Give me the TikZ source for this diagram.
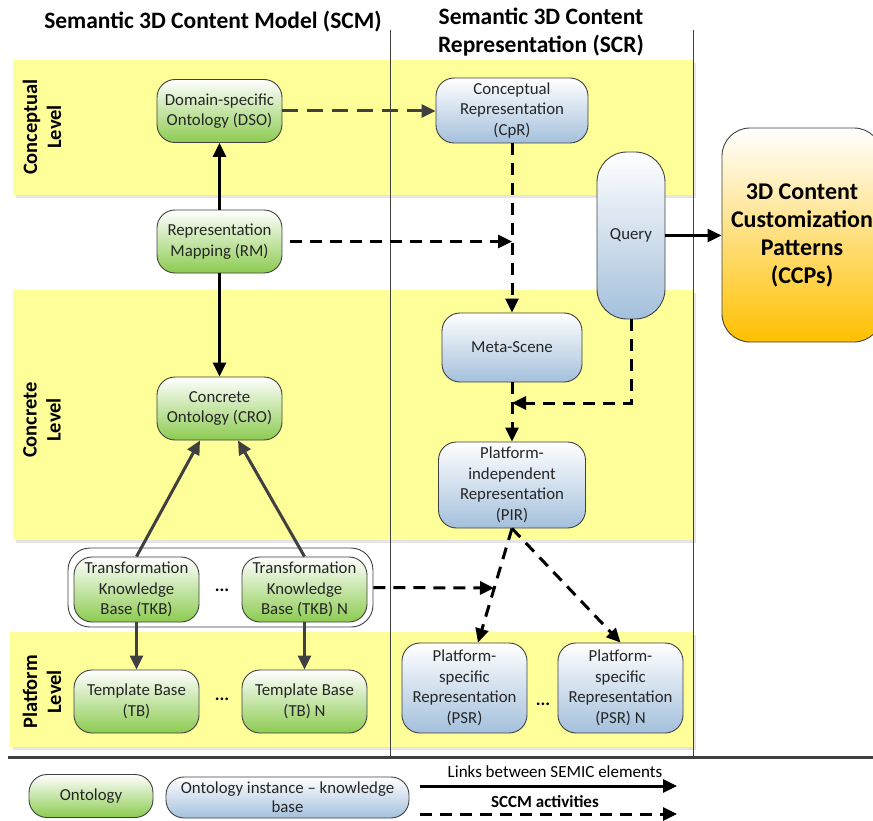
\documentclass[tikz,border=0pt]{standalone}
\usepackage{fontspec}
\setmainfont{Carlito}
\usetikzlibrary{arrows.meta}

\definecolor{band}{RGB}{255,255,153}
\definecolor{edge}{RGB}{64,64,64}
\definecolor{ink}{RGB}{38,38,38}
\definecolor{greenbot}{RGB}{140,203,80}
\definecolor{bluebot}{RGB}{164,192,220}
\definecolor{orangebot}{RGB}{255,192,0}

\tikzset{
  box/.style={draw=edge, line width=0.9pt, rounded corners=18pt, align=center,
    inner sep=0pt, text=ink, font=\fontsize{16.8}{20.5}\selectfont},
  onto/.style={box, top color=white, bottom color=greenbot},
  inst/.style={box, top color=white, bottom color=bluebot},
  link/.style={line width=3pt, draw=black, -{Triangle[length=14pt,width=13pt]}},
  greylink/.style={line width=3pt, draw=edge, -{Triangle[length=14pt,width=13pt]}},
  activity/.style={line width=3pt, draw=black, dash pattern=on 12pt off 8pt,
    -{Triangle[length=14pt,width=13pt]}},
  greyactivity/.style={line width=3pt, draw=edge, dash pattern=on 16pt off 9pt,
    -{Triangle[length=14pt,width=13pt]}},
  levelband/.style={fill=band, draw=none},
  bandshadow/.style={fill=black!10, draw=none},
  levellabel/.style={rotate=90, align=center, text=black,
    font=\fontsize{20.5}{24}\selectfont\bfseries},
  title/.style={align=center, text=black, font=\fontsize{23.5}{28}\selectfont\bfseries},
  legendtext/.style={text=black, font=\fontsize{17}{19}\selectfont},
  dots/.style={text=black, font=\fontsize{18}{18}\selectfont\bfseries}
}

\begin{document}
\begin{tikzpicture}[x=1pt, y=-1pt]
\useasboundingbox (0,0) rectangle (873,821);

% level bands with a soft drop shadow
\fill[bandshadow] (16,63) rectangle (696,198);
\fill[levelband] (13,60) rectangle (693,195);
\fill[bandshadow] (16,293) rectangle (696,543);
\fill[levelband] (13,290) rectangle (693,540);
\fill[bandshadow] (13,635) rectangle (696,750);
\fill[levelband] (10,632) rectangle (693,747);

% column separators and base rule
\draw[edge, line width=0.8pt] (390,30) -- (390,757);
\draw[edge, line width=0.8pt] (693,30) -- (693,757);
\draw[edge, line width=3pt] (8,757) -- (873,757);

% column titles
\node[title, anchor=base] (scmtitle) at (213,29) {Semantic 3D Content Model (SCM)};
\node[title, anchor=base] (scrtitle) at (541,53) {Semantic 3D Content\\Representation (SCR)};

% level labels
\node[levellabel] (lconc) at (42,127) {Conceptual\\Level};
\node[levellabel] (lcret) at (42,420) {Concrete\\Level};
\node[levellabel] (lplat) at (42,692) {Platform\\Level};

% SCM ontologies
\node[onto, minimum width=125pt, minimum height=63pt] (DSO) at (219.5,111) {Domain-specific\\Ontology (DSO)};
\node[onto, minimum width=125pt, minimum height=63pt] (RM) at (219.5,241.5) {Representation\\Mapping (RM)};
\node[onto, minimum width=125pt, minimum height=63pt] (CRO) at (219.5,408.5) {Concrete\\Ontology (CRO)};

\node[draw=edge, line width=0.9pt, fill=white, rounded corners=22pt,
      minimum width=305pt, minimum height=79pt] (grp) at (220.5,587.5) {};
\node[onto, minimum width=125pt, minimum height=65pt] (TKB) at (136.5,589.5) {Transformation\\Knowledge\\Base (TKB)};
\node[onto, minimum width=125pt, minimum height=65pt] (TKBN) at (304.5,589.5) {Transformation\\Knowledge\\Base (TKB) N};
\node[dots] (tkbdots) at (222,590) {...};

\node[onto, minimum width=125pt, minimum height=63pt] (TB) at (136.5,701.5) {Template Base\\(TB)};
\node[onto, minimum width=125pt, minimum height=63pt] (TBN) at (304.5,701.5) {Template Base\\(TB) N};
\node[dots] (tbdots) at (222,699) {...};

% SCR representations
\node[inst, minimum width=152pt, minimum height=65pt] (CpR) at (512,110.5) {Conceptual\\Representation\\(CpR)};
\node[inst, rounded corners=30pt, minimum width=68pt, minimum height=167pt] (Query) at (631,235.5) {Query};
\node[inst, minimum width=140pt, minimum height=69pt] (MS) at (512,347.5) {Meta-Scene};
\node[inst, minimum width=147pt, minimum height=86pt] (PIR) at (512,485) {Platform-\\independent\\Representation\\(PIR)};
\node[inst, minimum width=125pt, minimum height=90pt] (PSR) at (464.5,688) {Platform-\\specific\\Representation\\(PSR)};
\node[inst, minimum width=125pt, minimum height=90pt] (PSRN) at (620.5,688) {Platform-\\specific\\Representation\\(PSR) N};
\node[dots] (psrdots) at (543,704) {...};

% customization patterns
\node[box, rounded corners=28pt, top color=white, bottom color=orangebot,
      minimum width=160pt, minimum height=214pt, text=black,
      font=\fontsize{24}{28}\selectfont\bfseries] (CCP) at (802,235) {3D Content\\Customization\\Patterns\\(CCPs)};

% links between elements
\draw[link] (RM) -- (DSO);
\draw[link] (RM) -- (CRO);
\draw[greylink] (TKB.north) -- ([xshift=-19.5pt]CRO.south);
\draw[greylink] (TKBN.north) -- ([xshift=18.5pt]CRO.south);
\draw[greylink] (TKB) -- (TB);
\draw[greylink] (TKBN) -- (TBN);
\draw[link] (Query.east) -- (CCP.west |- Query.east);

% activities
\coordinate (rmhit) at (512,241.5);
\coordinate (qhit) at (512,403);
\coordinate (tkbhit) at (494,588);
\draw[greyactivity] (DSO.east) -- (CpR.west |- DSO.east);
\draw[activity] ([xshift=8pt]RM.east) -- (rmhit);
\draw[activity] (CpR) -- (MS);
\draw[activity] (MS) -- (PIR);
\draw[activity] (Query.south) |- (qhit);
\draw[activity] (grp.east) -- (tkbhit);
\draw[activity] (PIR.south) -- ([xshift=13.5pt]PSR.north);
\draw[activity] (PIR.south) -- (PSRN.north);

% legend
\node[onto, minimum width=124pt, minimum height=43pt] (lgonto) at (91,796) {Ontology};
\node[inst, minimum width=243pt, minimum height=41pt, font=\fontsize{16.8}{19}\selectfont] (lginst) at (287.5,797.5) {Ontology instance -- knowledge\\base};
\coordinate (la1) at (420,786);
\coordinate (la2) at (677,786);
\coordinate (lb1) at (420,814);
\coordinate (lb2) at (677,814);
\draw[link] (la1) -- (la2);
\draw[activity] (lb1) -- (lb2);
\node[legendtext] (lgla) at (555,772) {Links between SEMIC elements};
\node[legendtext, font=\fontsize{17}{19}\selectfont\bfseries] (lglb) at (545,802) {SCCM activities};
\end{tikzpicture}
\end{document}
